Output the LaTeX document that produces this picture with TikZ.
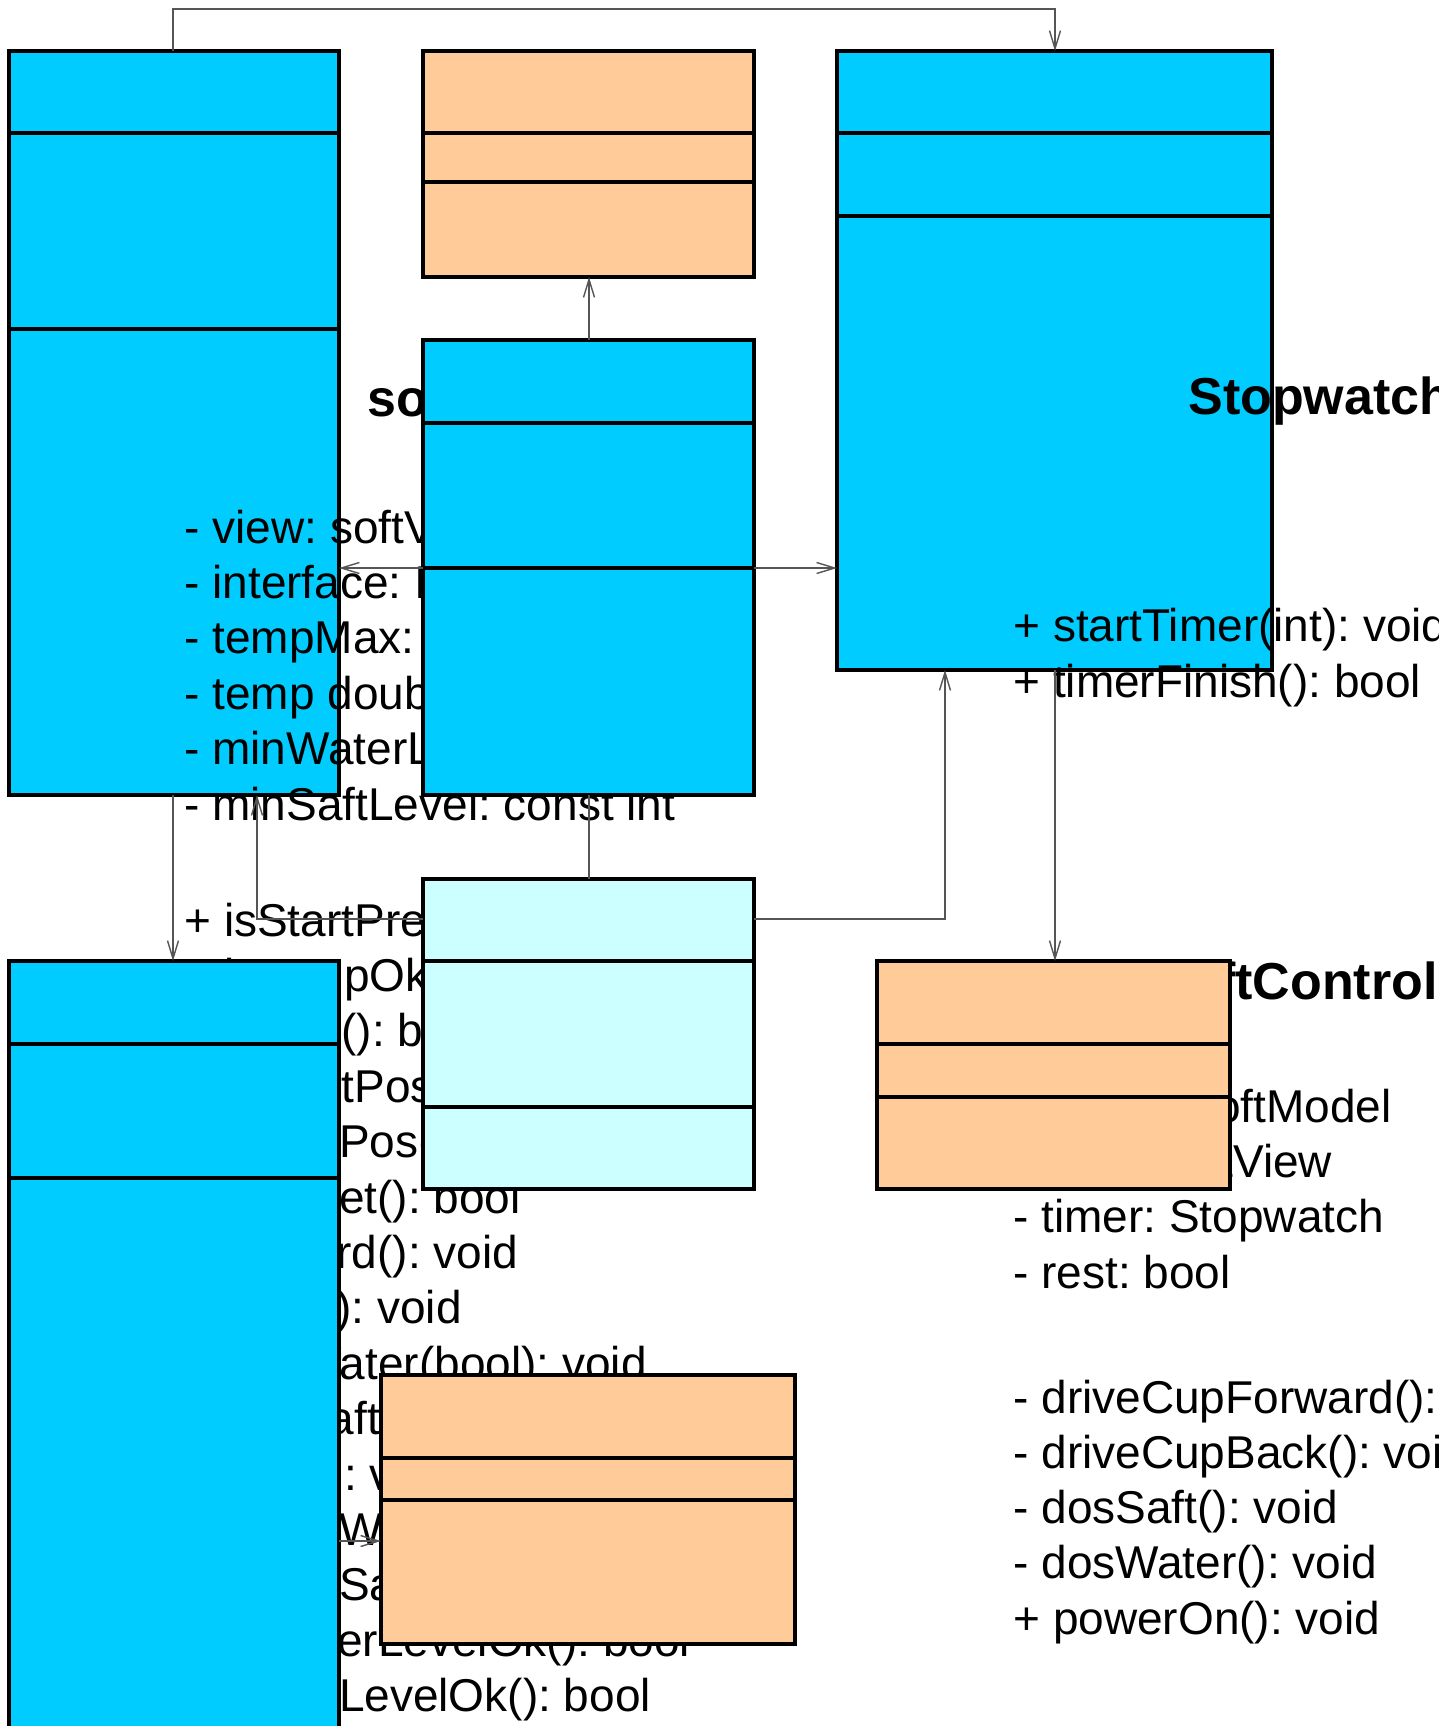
\documentclass[tikz,border=0pt]{standalone}
\usepackage{fontspec}
\setmainfont{Liberation Sans}
\usepackage{tikz}
\usetikzlibrary{positioning, arrows.meta, calc}

\definecolor{modelblue}{HTML}{00CCFF}
\definecolor{viewpeach}{HTML}{FFCC99}
\definecolor{paleaqua}{HTML}{CCFFFF}
\definecolor{linegray}{HTML}{555555}

\tikzset{
  >={Straight Barb[length=9pt, width=5.5pt]},
  classbox/.style={draw, line width=1.6pt, anchor=north west, inner sep=0pt, outer sep=0pt},
  divider/.style={line width=1.6pt},
  member/.style={anchor=base west, inner sep=0pt, font=\fontsize{23pt}{27.7pt}\selectfont},
  classname/.style={member, font=\fontsize{26pt}{31pt}\selectfont\bfseries},
  assoc/.style={->, draw=linegray, line width=0.7pt},
  link/.style={draw=linegray, line width=0.7pt},
}

% class box: name, x, y, width, height, fill, divider offsets
\newcommand{\classbox}[7]{
  \node[classbox, fill=#6, minimum width=#4*0.5pt, minimum height=#5*0.5pt] (#1) at (#2,#3) {};
  \foreach \d in {#7}
    \draw[divider] ($(#1.north west)+(0,\d)$) -- ($(#1.north east)+(0,\d)$);
}

\frenchspacing

\begin{document}
\begin{tikzpicture}[x=0.5pt, y=-0.5pt]
  \useasboundingbox (0,0) rectangle (1439,1726);
  \clip (0,0) rectangle (1439,1726);
  \fill[white] (0,0) rectangle (1439,1726);

  % boxes lying under the member texts
  \classbox{model}{9}{51}{330}{744}{modelblue}{82,278}
  \classbox{watch}{837}{51}{435}{619}{modelblue}{82,165}

  % softModel
  \node[classname] (sm-name) at (367,416) {softModel};
  \foreach \t [count=\i from 0] in {- view: softView, - interface: Interface, - tempMax: double,
      - temp double, - minWaterLevel: const int, - minSaftLevel: const int}
    \node[member] (sm-a\i) at ({184},{543+55.4*\i}) {\t};
  \foreach \t [count=\i from 0] in {+ isStartPressed(): bool, + isTempOk(): bool, + isCup(): bool,
      + isStartPos(): bool, + isEndPos(): bool, + isReset(): bool, + forward(): void,
      + back(): void, + useWater(bool): void, + useSaft(bool): void, + heat(): void,
      + pumpWater(): void, + pumpSaft(): void, + isWaterLevelOk(): bool, + isSaftLevelOk(): bool}
    \node[member] (sm-m\i) at ({184},{936+55.4*\i}) {\t};

  % Stopwatch
  \node[classname] (sw-name) at (1188,414) {Stopwatch};
  \node[member] (sw-m0) at (1013,641) {+ startTimer(int): void};
  \node[member] (sw-m1) at (1013,697) {+ timerFinish(): bool};

  % softControl
  \node[classname] (sc-name) at (1157,999) {softControl};
  \foreach \t [count=\i from 0] in {- model: softModel, - view: softView, - timer: Stopwatch, - rest: bool}
    \node[member] (sc-a\i) at ({1013},{1122+55.4*\i}) {\t};
  \foreach \t [count=\i from 0] in {- driveCupForward(): void, - driveCupBack(): void,
      - dosSaft(): void, - dosWater(): void, + powerOn(): void}
    \node[member] (sc-m\i) at ({1013},{1413+55.3*\i}) {\t};

  % boxes over the texts
  \classbox{view}{423}{51}{331}{226}{viewpeach}{82,131}
  \classbox{ctrl}{423}{340}{331}{455}{modelblue}{83,228}
  \classbox{iface}{423}{879}{331}{310}{paleaqua}{82,228}
  \classbox{drive}{9}{961}{330}{820}{modelblue}{83,217}
  \classbox{timer}{877}{961}{353}{228}{viewpeach}{83,136}
  \classbox{pump}{381}{1375}{414}{269}{viewpeach}{83,125}

  % connectors
  \draw[assoc] ($(model.north west)+(164,0)$) -- ++(0,-42) -| ($(watch.north west)+(218,0)$);
  \draw[assoc] ($(ctrl.north west)+(166,0)$) -- ($(view.south west)+(166,0)$);
  \coordinate (c1) at ($(ctrl.north west)+(0,228)$);
  \coordinate (c2) at ($(ctrl.north east)+(0,228)$);
  \draw[assoc] (c1) -- (c1 -| model.east);
  \draw[assoc] (c2) -- (c2 -| watch.west);
  \draw[assoc] ($(model.south west)+(164,0)$) -- ($(drive.north west)+(164,0)$);
  \coordinate (i1) at ($(iface.north west)+(0,40)$);
  \coordinate (i2) at ($(iface.north east)+(0,40)$);
  \draw[assoc] (i1) -| ($(model.south west)+(248,0)$);
  \draw[assoc] (i2) -| ($(watch.south west)+(108,0)$);
  \draw[link] ($(iface.north west)+(166,0)$) -- ($(ctrl.south west)+(166,0)$);
  \draw[assoc] ($(watch.south west)+(218,0)$) -- ($(timer.north west)+(178,0)$);
  \coordinate (d1) at ($(drive.north east)+(0,580)$);
  \draw[assoc] (d1) -- (d1 -| pump.west);
\end{tikzpicture}
\end{document}
